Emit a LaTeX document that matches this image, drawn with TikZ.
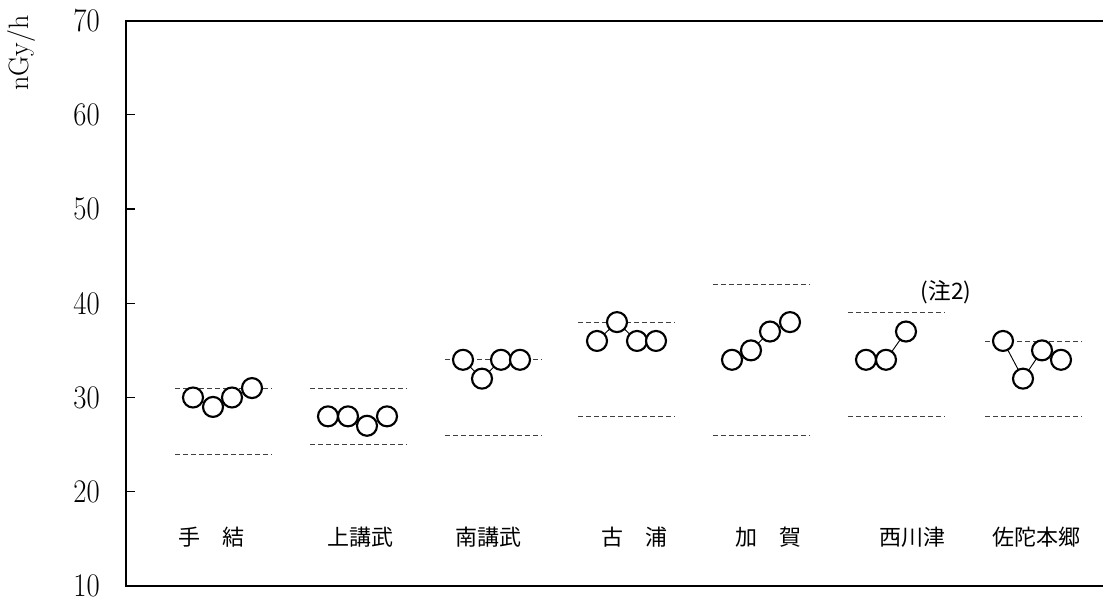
\documentclass[tikz,border=0pt]{standalone}
\usepackage{fontspec}
\usepackage{graphicx}
\newfontfamily\jp{Noto Sans CJK JP}
\usetikzlibrary{backgrounds}
\newcommand\yv[1]{(586-(#1-10)*9.425)}
\begin{document}
\begin{tikzpicture}[x=0.75pt,y=-0.75pt,
  pt/.style={circle,draw,line width=1.6pt,fill=white,minimum size=15pt,inner sep=0pt},
  refline/.style={line width=0.6pt,dash pattern=on 4pt off 2pt,black!75},
  link/.style={line width=0.7pt},
  ticklab/.style={font=\fontsize{21.5}{24}\selectfont,anchor=east,inner sep=0pt},
  site/.style={font=\jp\fontsize{16.5}{20}\selectfont,inner sep=0pt},
  axisframe/.style={line width=2pt}]
\useasboundingbox (0,0) rectangle (1103,602);
% frame
\draw[axisframe] (1103,21) -- (126,21) -- (126,586) -- (1103,586);
\foreach \v in {20,30,40,50,60} \draw[line width=0.8pt] (126,{\yv{\v}}) -- (135,{\yv{\v}});
% tick labels
\node[ticklab] (t70) at (100,{\yv{70}}) {\scalebox{1}[1.15]{70}};
\node[ticklab] (t60) at (100,{\yv{60}}) {\scalebox{1}[1.15]{60}};
\node[ticklab] (t50) at (100,{\yv{50}}) {\scalebox{1}[1.15]{50}};
\node[ticklab] (t40) at (100,{\yv{40}}) {\scalebox{1}[1.15]{40}};
\node[ticklab] (t30) at (100,{\yv{30}}) {\scalebox{1}[1.15]{30}};
\node[ticklab] (t20) at (100,{\yv{20}}) {\scalebox{1}[1.15]{20}};
\node[ticklab] (t10) at (100,{\yv{10}}) {\scalebox{1}[1.15]{10}};
\node[font=\fontsize{21}{24}\selectfont,rotate=90,inner sep=0pt] (unit) at (21,53) {nGy/h};
% reference lines
\draw[refline] (175,{\yv{31}}) -- (272,{\yv{31}});
\draw[refline] (175,{\yv{24}}) -- (272,{\yv{24}});
\draw[refline] (310,{\yv{31}}) -- (407,{\yv{31}});
\draw[refline] (310,{\yv{25}}) -- (407,{\yv{25}});
\draw[refline] (445,{\yv{34}}) -- (542,{\yv{34}});
\draw[refline] (445,{\yv{26}}) -- (542,{\yv{26}});
\draw[refline] (578,{\yv{38}}) -- (675,{\yv{38}});
\draw[refline] (578,{\yv{28}}) -- (675,{\yv{28}});
\draw[refline] (713,{\yv{42}}) -- (810,{\yv{42}});
\draw[refline] (713,{\yv{26}}) -- (810,{\yv{26}});
\draw[refline] (848,{\yv{39}}) -- (945,{\yv{39}});
\draw[refline] (848,{\yv{28}}) -- (945,{\yv{28}});
\draw[refline] (985,{\yv{36}}) -- (1082,{\yv{36}});
\draw[refline] (985,{\yv{28}}) -- (1082,{\yv{28}});
% points
\node[pt] (a1) at (193,{\yv{30}}) {};
\node[pt] (a2) at (213,{\yv{29}}) {};
\node[pt] (a3) at (232,{\yv{30}}) {};
\node[pt] (a4) at (252,{\yv{31}}) {};
\node[pt] (b1) at (328,{\yv{28}}) {};
\node[pt] (b2) at (348,{\yv{28}}) {};
\node[pt] (b3) at (367,{\yv{27}}) {};
\node[pt] (b4) at (387,{\yv{28}}) {};
\node[pt] (c1) at (463,{\yv{34}}) {};
\node[pt] (c2) at (482,{\yv{32}}) {};
\node[pt] (c3) at (501,{\yv{34}}) {};
\node[pt] (c4) at (520,{\yv{34}}) {};
\node[pt] (d1) at (597,{\yv{36}}) {};
\node[pt] (d2) at (617,{\yv{38}}) {};
\node[pt] (d3) at (637,{\yv{36}}) {};
\node[pt] (d4) at (656,{\yv{36}}) {};
\node[pt] (e1) at (732,{\yv{34}}) {};
\node[pt] (e2) at (751,{\yv{35}}) {};
\node[pt] (e3) at (770,{\yv{37}}) {};
\node[pt] (e4) at (790,{\yv{38}}) {};
\node[pt] (f1) at (866,{\yv{34}}) {};
\node[pt] (f2) at (886,{\yv{34}}) {};
\node[pt] (f3) at (906,{\yv{37}}) {};
\node[pt] (g1) at (1003,{\yv{36}}) {};
\node[pt] (g2) at (1023,{\yv{32}}) {};
\node[pt] (g3) at (1042,{\yv{35}}) {};
\node[pt] (g4) at (1061,{\yv{34}}) {};
\begin{scope}[on background layer]
\draw[link] (a1.center) -- (a2.center) -- (a3.center) -- (a4.center);
\draw[link] (b1.center) -- (b2.center) -- (b3.center) -- (b4.center);
\draw[link] (c1.center) -- (c2.center) -- (c3.center) -- (c4.center);
\draw[link] (d1.center) -- (d2.center) -- (d3.center) -- (d4.center);
\draw[link] (e1.center) -- (e2.center) -- (e3.center) -- (e4.center);
\draw[link] (f1.center) -- (f2.center) -- (f3.center);
\draw[link] (g1.center) -- (g2.center) -- (g3.center) -- (g4.center);
\end{scope}
% site labels
\node[site] (s1) at (211,537) {手　結};
\node[site] (s2) at (360,537) {上講武};
\node[site] (s3) at (488,537) {南講武};
\node[site] (s4) at (634,537) {古　浦};
\node[site] (s5) at (768,537) {加　賀};
\node[site] (s6) at (912,537) {西川津};
\node[site] (s7) at (1036,537) {佐陀本郷};
\node[font=\jp\fontsize{17}{20}\selectfont,inner sep=0pt] (note) at (946,292) {(注2)};
\end{tikzpicture}
\end{document}
